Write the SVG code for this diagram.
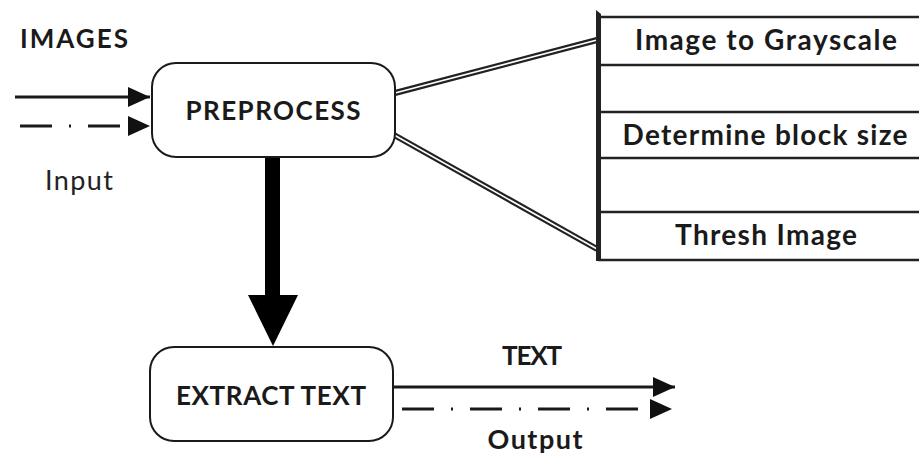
<svg xmlns="http://www.w3.org/2000/svg" width="919" height="457" viewBox="0 0 919 457">
<style>
.box{fill:#fff;stroke:#1a1a1a;stroke-width:2}
.t{font-family:Lato,"Liberation Sans",sans-serif;font-weight:bold;fill:#1a1a1a}
.r{font-family:Lato,"Liberation Sans",sans-serif;fill:#222}
.ln{stroke:#1a1a1a;stroke-width:3;fill:none}
.dd{stroke:#1a1a1a;stroke-width:3;fill:none;stroke-dasharray:32 17 2 17}
.dblo{stroke:#222;stroke-width:6;fill:none}
.dbli{stroke:#fff;stroke-width:1.6;fill:none}
.row{stroke:#222;stroke-width:2.5}
</style>
<defs>
<marker id="ah" markerUnits="userSpaceOnUse" markerWidth="24" markerHeight="20" refX="22" refY="10" orient="auto">
<path d="M0,0 L22,10 L0,20 Z" fill="#111"/>
</marker>
</defs>
<rect width="919" height="457" fill="#fff"/>

<g id="connectors">
<line class="ln" x1="15" y1="97" x2="150" y2="97" marker-end="url(#ah)"/>
<line class="dd" x1="20" y1="126" x2="150" y2="126" marker-end="url(#ah)"/>
<line class="ln" x1="393" y1="387" x2="675" y2="387" marker-end="url(#ah)"/>
<line class="dd" x1="402" y1="409" x2="672" y2="409" marker-end="url(#ah)"/>
<line x1="272.5" y1="158" x2="272.5" y2="300" stroke="#000" stroke-width="15" stroke-linecap="round"/>
<path d="M248,295 L298,295 L273,346 Z" fill="#000"/>
<line class="dblo" x1="395" y1="93" x2="597" y2="40"/>
<line class="dbli" x1="395" y1="93" x2="597" y2="40"/>
<line class="dblo" x1="387" y1="131" x2="597" y2="249"/>
<line class="dbli" x1="387" y1="131" x2="597" y2="249"/>
</g>

<g id="preprocess">
<rect class="box" x="152" y="63" width="243" height="94" rx="24"/>
<text class="t" x="273" y="120" font-size="26" text-anchor="middle" textLength="175">PREPROCESS</text>
</g>

<g id="extract">
<rect class="box" x="150" y="347" width="243" height="94" rx="24"/>
<text class="t" x="271" y="405" font-size="26" text-anchor="middle" textLength="190">EXTRACT TEXT</text>
</g>

<g id="steps">
<line class="row" x1="598" y1="17" x2="925" y2="17"/>
<line class="row" x1="598" y1="65" x2="925" y2="65"/>
<line class="row" x1="598" y1="112" x2="925" y2="112"/>
<line class="row" x1="598" y1="158" x2="925" y2="158"/>
<line class="row" x1="598" y1="212" x2="925" y2="212"/>
<line class="row" x1="598" y1="260" x2="925" y2="260"/>
<path d="M596,10 L601,14 L601,261 L596,261 Z" fill="#222"/>
<text class="t" x="766" y="50" font-size="28" text-anchor="middle" textLength="262">Image to Grayscale</text>
<text class="t" x="765" y="145" font-size="28" text-anchor="middle" textLength="285">Determine block size</text>
<text class="t" x="766" y="245" font-size="28" text-anchor="middle" textLength="182">Thresh Image</text>
</g>

<g id="labels">
<text class="t" x="20" y="48" font-size="26" textLength="108">IMAGES</text>
<text class="r" x="45" y="190" font-size="27" textLength="68">Input</text>
<text class="t" x="532" y="365" font-size="26" text-anchor="middle" textLength="60">TEXT</text>
<text class="t" x="535" y="449" font-size="27" text-anchor="middle" textLength="95">Output</text>
</g>
</svg>
